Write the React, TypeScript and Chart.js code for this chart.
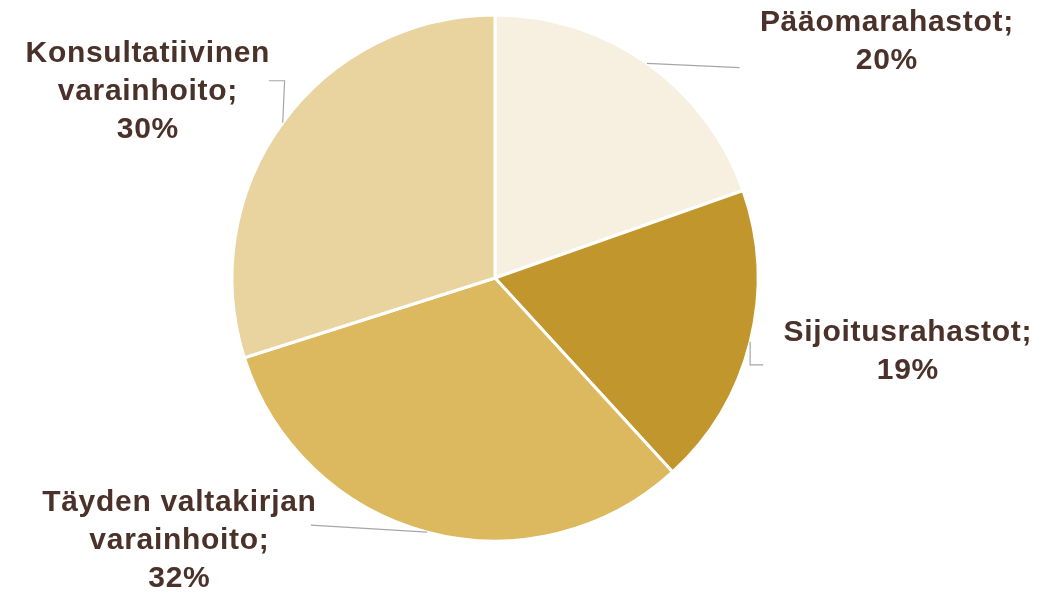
import React, { useEffect, useRef } from "react";
import { Chart, registerables } from "chart.js";

Chart.register(...registerables);

const categories = ["Pääomarahastot", "Sijoitusrahastot", "Täyden valtakirjan varainhoito", "Konsultatiivinen varainhoito"];
const labelLines = [["Pääomarahastot;"], ["Sijoitusrahastot;"], ["Täyden valtakirjan", "varainhoito;"], ["Konsultatiivinen", "varainhoito;"]];
const shares = [19.6, 18.6, 31.9, 29.9];
const colors = ["#F7EFDF", "#C1962C", "#DCB95F", "#E9D39E"];

// label placement, in units of pie radius relative to centre (annotation styling)
const labelOffsets = [[1.49, -0.9], [1.57, 0.28], [-1.2, 1.0], [-1.32, -0.71]];
// leader polylines after the edge point, in radius units relative to centre
const leaderPaths = [
  [[0.93, -0.8]],
  [[0.97, 0.33], [1.02, 0.33]],
  [[-0.7, 0.94]],
  [[-0.8, -0.75], [-0.86, -0.75]],
];

const labelPlugin = {
  id: "pieLabels",
  afterDraw(chart: any) {
    const meta = chart.getDatasetMeta(0);
    const ctx = chart.ctx;
    ctx.save();
    meta.data.forEach((arc: any, i: number) => {
      const { x, y, startAngle, endAngle, outerRadius } = arc.getProps(["x", "y", "startAngle", "endAngle", "outerRadius"], true);
      const mid = (startAngle + endAngle) / 2;
      const ex = x + Math.cos(mid) * outerRadius;
      const ey = y + Math.sin(mid) * outerRadius;
      ctx.strokeStyle = "#A6A6A6";
      ctx.lineWidth = 1.2;
      ctx.beginPath();
      ctx.moveTo(ex, ey);
      leaderPaths[i].forEach((p) => ctx.lineTo(x + p[0] * outerRadius, y + p[1] * outerRadius));
      ctx.stroke();

      const lines = [...labelLines[i], Math.round(shares[i]) + "%"];
      const lh = 38;
      const cx = x + labelOffsets[i][0] * outerRadius;
      const cy = y + labelOffsets[i][1] * outerRadius;
      ctx.fillStyle = "#4A3129";
      ctx.font = "bold 30px 'Liberation Sans', Arial, sans-serif";
      (ctx as any).letterSpacing = "0.7px";
      ctx.textAlign = "center";
      ctx.textBaseline = "middle";
      lines.forEach((t, k) => {
        ctx.fillText(t, cx, cy + (k - (lines.length - 1) / 2) * lh);
      });
    });
    ctx.restore();
  },
};

export default function App() {
  const ref = useRef<HTMLCanvasElement>(null);
  useEffect(() => {
    document.body.style.margin = "0";
    const chart = new Chart(ref.current!, {
      type: "pie",
      data: {
        labels: categories,
        datasets: [
          {
            data: shares,
            backgroundColor: colors,
            borderColor: "#FFFFFF",
            borderWidth: 3,
          },
        ],
      },
      options: {
        responsive: false,
        animation: false,
        radius: 263,
        layout: { padding: { top: 15, bottom: 56, left: 0, right: 73 } },
        plugins: { legend: { display: false }, tooltip: { enabled: false } },
      },
      plugins: [labelPlugin],
    });
    return () => chart.destroy();
  }, []);
  return (
    <div style={{ width: 1063, height: 597, background: "#fff" }}>
      <canvas ref={ref} width={1063} height={597} />
    </div>
  );
}
